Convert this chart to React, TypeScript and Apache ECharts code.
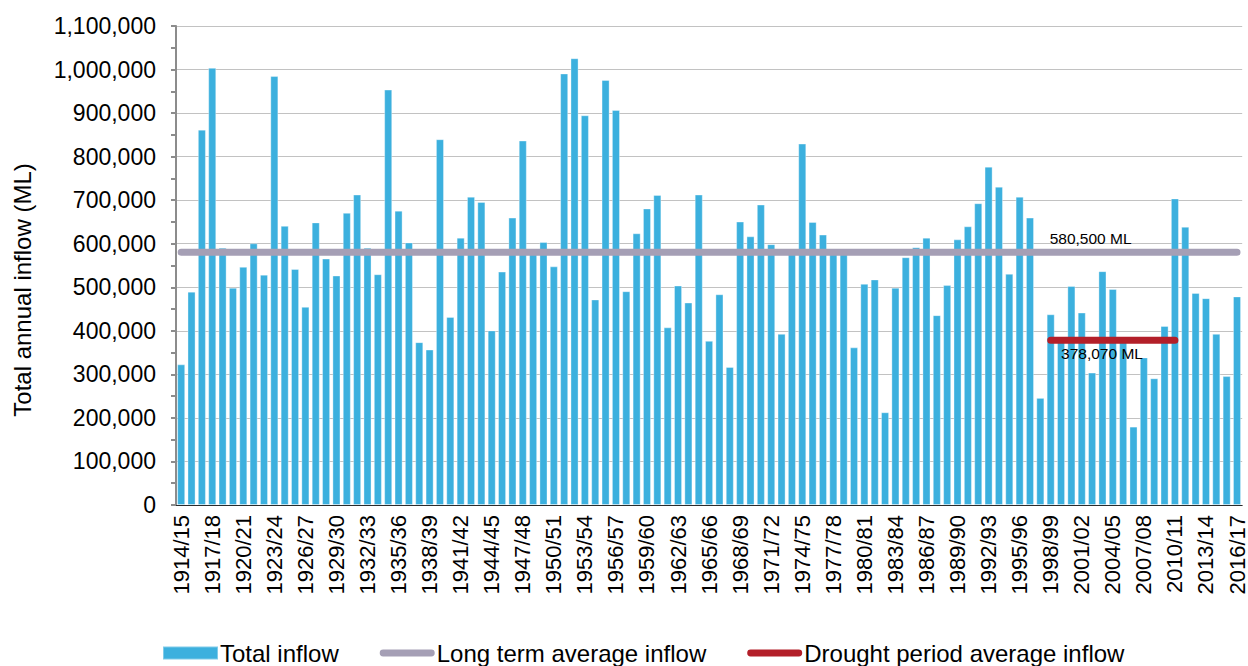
import React, { useEffect, useRef } from "react";
import * as echarts from "echarts";

const categories = [
  "1914/15", "1915/16", "1916/17", "1917/18", "1918/19", "1919/20", "1920/21", "1921/22", "1922/23", "1923/24",
  "1924/25", "1925/26", "1926/27", "1927/28", "1928/29", "1929/30", "1930/31", "1931/32", "1932/33", "1933/34",
  "1934/35", "1935/36", "1936/37", "1937/38", "1938/39", "1939/40", "1940/41", "1941/42", "1942/43", "1943/44",
  "1944/45", "1945/46", "1946/47", "1947/48", "1948/49", "1949/50", "1950/51", "1951/52", "1952/53", "1953/54",
  "1954/55", "1955/56", "1956/57", "1957/58", "1958/59", "1959/60", "1960/61", "1961/62", "1962/63", "1963/64",
  "1964/65", "1965/66", "1966/67", "1967/68", "1968/69", "1969/70", "1970/71", "1971/72", "1972/73", "1973/74",
  "1974/75", "1975/76", "1976/77", "1977/78", "1978/79", "1979/80", "1980/81", "1981/82", "1982/83", "1983/84",
  "1984/85", "1985/86", "1986/87", "1987/88", "1988/89", "1989/90", "1990/91", "1991/92", "1992/93", "1993/94",
  "1994/95", "1995/96", "1996/97", "1997/98", "1998/99", "1999/00", "2000/01", "2001/02", "2002/03", "2003/04",
  "2004/05", "2005/06", "2006/07", "2007/08", "2008/09", "2009/10", "2010/11", "2011/12", "2012/13", "2013/14",
  "2014/15", "2015/16", "2016/17",
];

const totalInflow = [
  323000, 490000, 862000, 1004000, 591000, 499000, 547000, 601000, 529000, 985000,
  641000, 542000, 455000, 649000, 566000, 527000, 671000, 713000, 591000, 530000,
  954000, 676000, 603000, 374000, 357000, 840000, 432000, 614000, 708000, 696000,
  401000, 536000, 660000, 837000, 585000, 604000, 548000, 991000, 1026000, 895000,
  472000, 976000, 907000, 491000, 624000, 681000, 712000, 408000, 504000, 465000,
  713000, 377000, 484000, 317000, 651000, 617000, 690000, 599000, 393000, 589000,
  830000, 650000, 621000, 580000, 578000, 362000, 508000, 518000, 213000, 499000,
  569000, 592000, 614000, 436000, 505000, 610000, 640000, 693000, 777000, 731000,
  531000, 708000, 660000, 246000, 438000, 382000, 503000, 442000, 304000, 537000,
  496000, 379000, 180000, 339000, 291000, 411000, 704000, 639000, 487000, 475000,
  393000, 296000, 479000,
];

const longTermAverage = 580500;
const droughtAverage = 378070;
const droughtLineFrom = "1998/99";
const droughtLineTo = "2010/11";
const longTermLabelAt = "1998/99";
const droughtLabelAt = "1999/00";

const seriesNames = ["Total inflow", "Long term average inflow", "Drought period average inflow"];
const yAxisTitle = "Total annual inflow (ML)";
const yMin = 0;
const yMax = 1100000;
const yStep = 100000;

const fmt = (v: number) => v.toLocaleString("en-US");

// rounded bar used as legend icon for the two average lines
const lineIcon = "path://M3.5,0 L52.5,0 A3.5,3.5 0 0 1 52.5,7 L3.5,7 A3.5,3.5 0 0 1 3.5,0 Z";

export default function App() {
  const ref = useRef<HTMLDivElement>(null);

  useEffect(() => {
    if (!ref.current) return;
    const chart = echarts.init(ref.current, null, { renderer: "svg" });

    const fromIdx = categories.indexOf(droughtLineFrom);
    const toIdx = categories.indexOf(droughtLineTo);
    const longTermLine = categories.map(() => longTermAverage);
    const droughtLine = categories.map((_, i) => (i >= fromIdx && i <= toIdx ? droughtAverage : "-"));

    const font = "'Liberation Sans', Arial, sans-serif";

    chart.setOption({
      animation: false,
      textStyle: { fontFamily: font, color: "#000" },
      grid: { left: 176, right: 3, top: 26, bottom: 161, containLabel: false },
      legend: {
        left: 162,
        top: 641,
        padding: 0,
        itemGap: 41,
        itemWidth: 55,
        itemHeight: 13,
        symbolKeepAspect: true,
        textStyle: { fontSize: 24, color: "#000", fontFamily: font, padding: [0, 0, 0, -3] },
        data: [
          { name: seriesNames[0], icon: "rect" },
          { name: seriesNames[1], icon: lineIcon, itemStyle: { color: "#a59fb5" } },
          { name: seriesNames[2], icon: lineIcon, itemStyle: { color: "#b31f29" } },
        ],
      },
      graphic: [
        {
          type: "text",
          x: 22,
          y: 290,
          rotation: Math.PI / 2,
          style: {
            text: yAxisTitle,
            fontSize: 24,
            fontFamily: font,
            fill: "#000",
            align: "center",
            verticalAlign: "middle",
          },
        },
      ],
      xAxis: {
        type: "category",
        data: categories,
        boundaryGap: true,
        axisLine: { lineStyle: { color: "#2b2b2b", width: 1 } },
        axisTick: { interval: 2, length: 6, lineStyle: { color: "#555", width: 1.5 } },
        axisLabel: { interval: 2, rotate: 90, fontSize: 22, color: "#000", margin: 10, fontFamily: font },
        splitLine: { show: false },
      },
      yAxis: {
        type: "value",
        min: yMin,
        max: yMax,
        interval: yStep,
        axisLine: { show: true, lineStyle: { color: "#8c8c8c", width: 2 } },
        axisTick: { show: true, length: 5, lineStyle: { color: "#8c8c8c", width: 2 } },
        minorTick: { show: true, splitNumber: 2, length: 5, lineStyle: { color: "#8c8c8c", width: 2 } },
        splitLine: { lineStyle: { color: "#c2c2c2", width: 1 } },
        axisLabel: { fontSize: 23, color: "#000", margin: 20, fontFamily: font, formatter: (v: number) => fmt(v) },
      },
      series: [
        {
          name: seriesNames[0],
          type: "bar",
          data: totalInflow,
          barCategoryGap: "22%",
          itemStyle: { color: "#3cb0de", borderColor: "rgba(255,255,255,0.35)", borderWidth: 1 },
        },
        {
          name: seriesNames[1],
          type: "line",
          data: longTermLine,
          symbol: "none",
          showSymbol: false,
          lineStyle: { color: "#a59fb5", width: 7, cap: "round" },
          itemStyle: { color: "#a59fb5" },
          z: 3,
          markPoint: {
            symbol: "circle",
            symbolSize: 0,
            silent: true,
            itemStyle: { color: "transparent" },
            label: {
              show: true,
              position: "right",
              distance: 0,
              offset: [-1, -14],
              fontSize: 15.5,
              color: "#000",
              fontFamily: font,
              formatter: () => `${fmt(longTermAverage)} ML`,
            },
            data: [{ coord: [longTermLabelAt, longTermAverage] }],
          },
        },
        {
          name: seriesNames[2],
          type: "line",
          data: droughtLine,
          symbol: "none",
          showSymbol: false,
          connectNulls: false,
          lineStyle: { color: "#b31f29", width: 7, cap: "round" },
          itemStyle: { color: "#b31f29" },
          z: 4,
          markPoint: {
            symbol: "circle",
            symbolSize: 0,
            silent: true,
            itemStyle: { color: "transparent" },
            label: {
              show: true,
              position: "right",
              distance: 0,
              offset: [0, 13],
              fontSize: 15.5,
              color: "#000",
              fontFamily: font,
              formatter: () => `${fmt(droughtAverage)} ML`,
            },
            data: [{ coord: [droughtLabelAt, droughtAverage] }],
          },
        },
      ],
    });

    return () => chart.dispose();
  }, []);

  return (
    <div
      ref={ref}
      style={{ position: "fixed", left: 0, top: 0, width: 1248, height: 666, background: "#fff" }}
    />
  );
}
